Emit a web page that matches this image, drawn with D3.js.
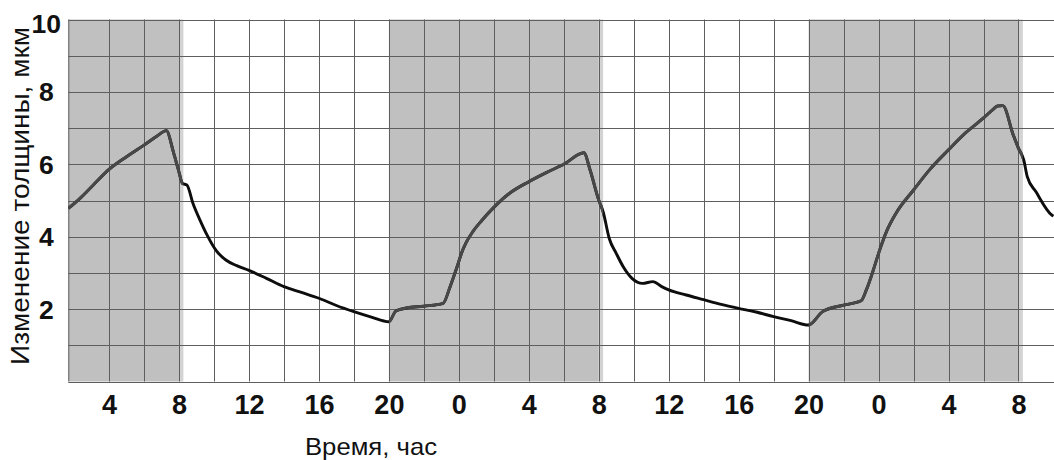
<!DOCTYPE html>
<html>
<head>
<meta charset="utf-8">
<script src="https://cdn.jsdelivr.net/npm/d3@7"></script>
<style>
  html, body { margin: 0; padding: 0; background: #fff; }
  svg { display: block; font-family: "Liberation Sans", Arial, sans-serif; }
</style>
</head>
<body>
<svg id="chart" width="1054" height="460"></svg>
<script>
// Elapsed time, hours from midnight of the first day
const hours = [
  1.67, 2.34, 3.1, 4, 5, 6, 6.75, 7.27, 7.7, 7.97, 8.2, 8.45, 8.8, 9.2, 9.6,
  10.15, 10.7, 11.3, 12, 13, 14, 15, 16, 17, 18, 19, 20,
  20.4, 21, 22, 23.1, 23.5, 23.9, 24.15, 24.4, 24.8, 25.3, 26, 26.9, 28, 29, 30, 31.15,
  31.5, 32, 32.25, 32.6, 33, 33.4, 33.9, 34.5, 35.1, 35.6, 36, 37, 38, 39, 40, 41, 42, 43, 44,
  44.8, 46, 47, 47.3, 47.7, 48, 48.45, 49, 50, 50.9, 52, 53, 54, 54.55, 54.8, 55.1,
  55.7, 56, 56.3, 56.5, 57, 57.9, 58
];
// Thickness change, micrometres
const thickness = [
  4.78, 5.06, 5.43, 5.86, 6.21, 6.53, 6.78, 6.93, 6.3, 5.84, 5.47, 5.43, 4.92, 4.46, 4.05,
  3.6, 3.35, 3.2, 3.07, 2.85, 2.62, 2.46, 2.3, 2.1, 1.93, 1.78, 1.65,
  1.95, 2.03, 2.08, 2.16, 2.62, 3.17, 3.54, 3.82, 4.14, 4.44, 4.81, 5.2, 5.52, 5.77, 6.0, 6.32,
  5.85, 5.01, 4.69, 3.95, 3.54, 3.17, 2.85, 2.71, 2.76, 2.62, 2.53, 2.39, 2.26, 2.13, 2.02, 1.92, 1.79, 1.68, 1.56,
  1.93, 2.11, 2.23, 2.53, 3.08, 3.54, 4.14, 4.65, 5.29, 5.84, 6.4, 6.88, 7.28, 7.52, 7.61, 7.62,
  6.81, 6.44, 6.12, 5.66, 5.24, 4.6, 4.57
];
// Dark periods (hours) and the short dim tail after each one
const nightStart = [1.67, 20, 44];
const nightEnd = [8, 32, 56];
const dimEnd = [8.25, 32.25, 56.25];

const xTicks = [4, 8, 12, 16, 20, 24, 28, 32, 36, 40, 44, 48, 52, 56];
const yTicks = [2, 4, 6, 8, 10];
const xGrid = d3.range(4, 57, 2);
const yGrid = d3.range(0, 11, 1);

const xTitle = "Время, час";
const yTitle = "Изменение толщины, мкм";

const svg = d3.select("#chart");
const plotLeft = 68.3, plotRight = 1054, plotTop = 19.5, plotBottom = 381.5;

const x = d3.scaleLinear().domain([1.67, 58.03]).range([plotLeft, plotRight]);
const y = d3.scaleLinear().domain([0, 10]).range([plotBottom, plotTop]);

const nights = nightStart.map((s, i) => ({ s, e: nightEnd[i], d: dimEnd[i] }));

// night shading
svg.append("g").selectAll("rect").data(nights).join("rect")
  .attr("x", d => x(d.e)).attr("y", y(10))
  .attr("width", d => x(d.d) - x(d.e)).attr("height", y(0) - y(10))
  .attr("fill", "#d3d3d3");
svg.append("g").selectAll("rect").data(nights).join("rect")
  .attr("x", d => x(d.s)).attr("y", y(10))
  .attr("width", d => x(d.e) - x(d.s)).attr("height", y(0) - y(10))
  .attr("fill", "#c0c0c0");

// grid
const grid = svg.append("g").attr("stroke", "#5e5e5e").attr("stroke-width", 1);
grid.append("g").selectAll("line").data(xGrid).join("line")
  .attr("x1", d => Math.round(x(d)) + 0.5).attr("x2", d => Math.round(x(d)) + 0.5)
  .attr("y1", y(10)).attr("y2", y(0));
grid.append("g").selectAll("line").data(yGrid).join("line")
  .attr("x1", plotLeft).attr("x2", plotRight)
  .attr("y1", d => Math.round(y(d)) + 0.5).attr("y2", d => Math.round(y(d)) + 0.5);
grid.append("line")
  .attr("x1", plotLeft + 0.5).attr("x2", plotLeft + 0.5).attr("y1", y(10)).attr("y2", y(0));

// measured curve: black over daylight, grey inside the shaded periods
const pts = hours.map((h, i) => [h, thickness[i]]);
const line = d3.line().x(d => x(d[0])).y(d => y(d[1])).curve(d3.curveMonotoneX);

const defs = svg.append("defs");
defs.append("clipPath").attr("id", "plotClip")
  .append("rect").attr("x", plotLeft).attr("y", 0)
  .attr("width", plotRight - plotLeft).attr("height", plotBottom);
const nightClip = defs.append("clipPath").attr("id", "nightClip");
nightClip.selectAll("rect").data(nights).join("rect")
  .attr("x", d => Math.max(plotLeft, x(d.s))).attr("y", 0)
  .attr("width", d => x(d.d) - Math.max(plotLeft, x(d.s))).attr("height", plotBottom);

svg.append("path").datum(pts)
  .attr("clip-path", "url(#plotClip)")
  .attr("d", line).attr("fill", "none")
  .attr("stroke", "#0d0d0d").attr("stroke-width", 2.9).attr("stroke-linejoin", "round");
svg.append("path").datum(pts)
  .attr("clip-path", "url(#nightClip)")
  .attr("d", line).attr("fill", "none")
  .attr("stroke", "#484848").attr("stroke-width", 2.9).attr("stroke-linejoin", "round");

// axes
const xAxis = d3.axisBottom(x).tickValues(xTicks).tickSize(0).tickPadding(13.3)
  .tickFormat(d => String(d % 24));
const gx = svg.append("g").attr("transform", `translate(0,${plotBottom})`).call(xAxis);
gx.select(".domain").remove();
gx.selectAll("text")
  .attr("font-family", "'Liberation Sans', Arial, sans-serif")
  .attr("font-size", 27).attr("font-weight", "bold").attr("fill", "#111");

const yAxis = d3.axisLeft(y).tickValues(yTicks).tickSize(0).tickPadding(0);
const gy = svg.append("g").attr("transform", `translate(${plotLeft},0)`).call(yAxis);
gy.select(".domain").remove();
gy.selectAll("text")
  .attr("font-family", "'Liberation Sans', Arial, sans-serif")
  .attr("font-size", 26.5).attr("font-weight", "bold").attr("fill", "#111")
  .attr("text-anchor", "middle").attr("x", -22)
  .attr("y", d => d === 10 ? 4.5 : 0.5);

// titles
svg.append("text")
  .attr("x", 371).attr("y", 455)
  .attr("text-anchor", "middle")
  .attr("font-size", 24).attr("fill", "#111")
  .attr("textLength", 132).attr("lengthAdjust", "spacingAndGlyphs")
  .text(xTitle);

svg.append("text")
  .attr("transform", "translate(28.5,196) rotate(-90)")
  .attr("text-anchor", "middle")
  .attr("font-size", 25).attr("fill", "#111")
  .attr("textLength", 338).attr("lengthAdjust", "spacingAndGlyphs")
  .text(yTitle);
</script>
</body>
</html>
